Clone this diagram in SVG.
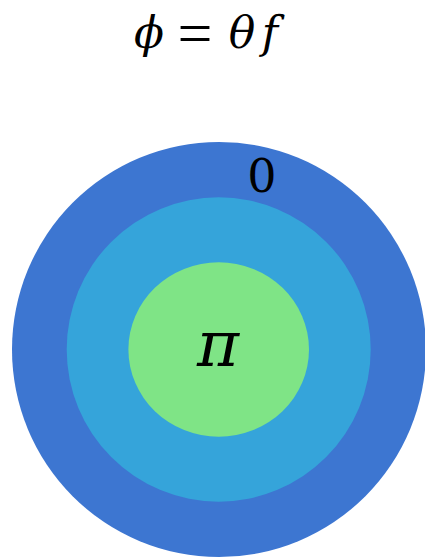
<svg xmlns="http://www.w3.org/2000/svg" width="425" height="558" viewBox="0 0 425 558">
<style>
.t{font-family:"DejaVu Serif","Liberation Serif",serif;fill:#000}
.i{font-style:italic}
</style>
<rect width="425" height="558" fill="#fff"/>
<g id="title" class="t" font-size="44" text-anchor="middle">
<text class="i" x="149" y="48">ϕ</text>
<text x="195" y="54" font-family="Liberation Serif" font-size="62">=</text>
<text class="i" x="242" y="48">θ</text>
<text class="i" x="270" y="48">f</text>
</g>
<g id="outer"><ellipse cx="219" cy="349.5" rx="207" ry="207.5" fill="#3D76D1"/></g>
<g id="middle"><ellipse cx="218.7" cy="349.5" rx="152" ry="152.2" fill="#35A4DA"/></g>
<g id="inner"><ellipse cx="218.7" cy="349.5" rx="90.3" ry="87.2" fill="#7FE486"/></g>
<g id="connectors"></g>
<text class="t" x="262" y="192" font-size="46" text-anchor="middle" font-family="Liberation Serif">0</text>
<text class="t i" x="218" y="366" font-size="64" text-anchor="middle" font-family="Liberation Serif">π</text>
</svg>
